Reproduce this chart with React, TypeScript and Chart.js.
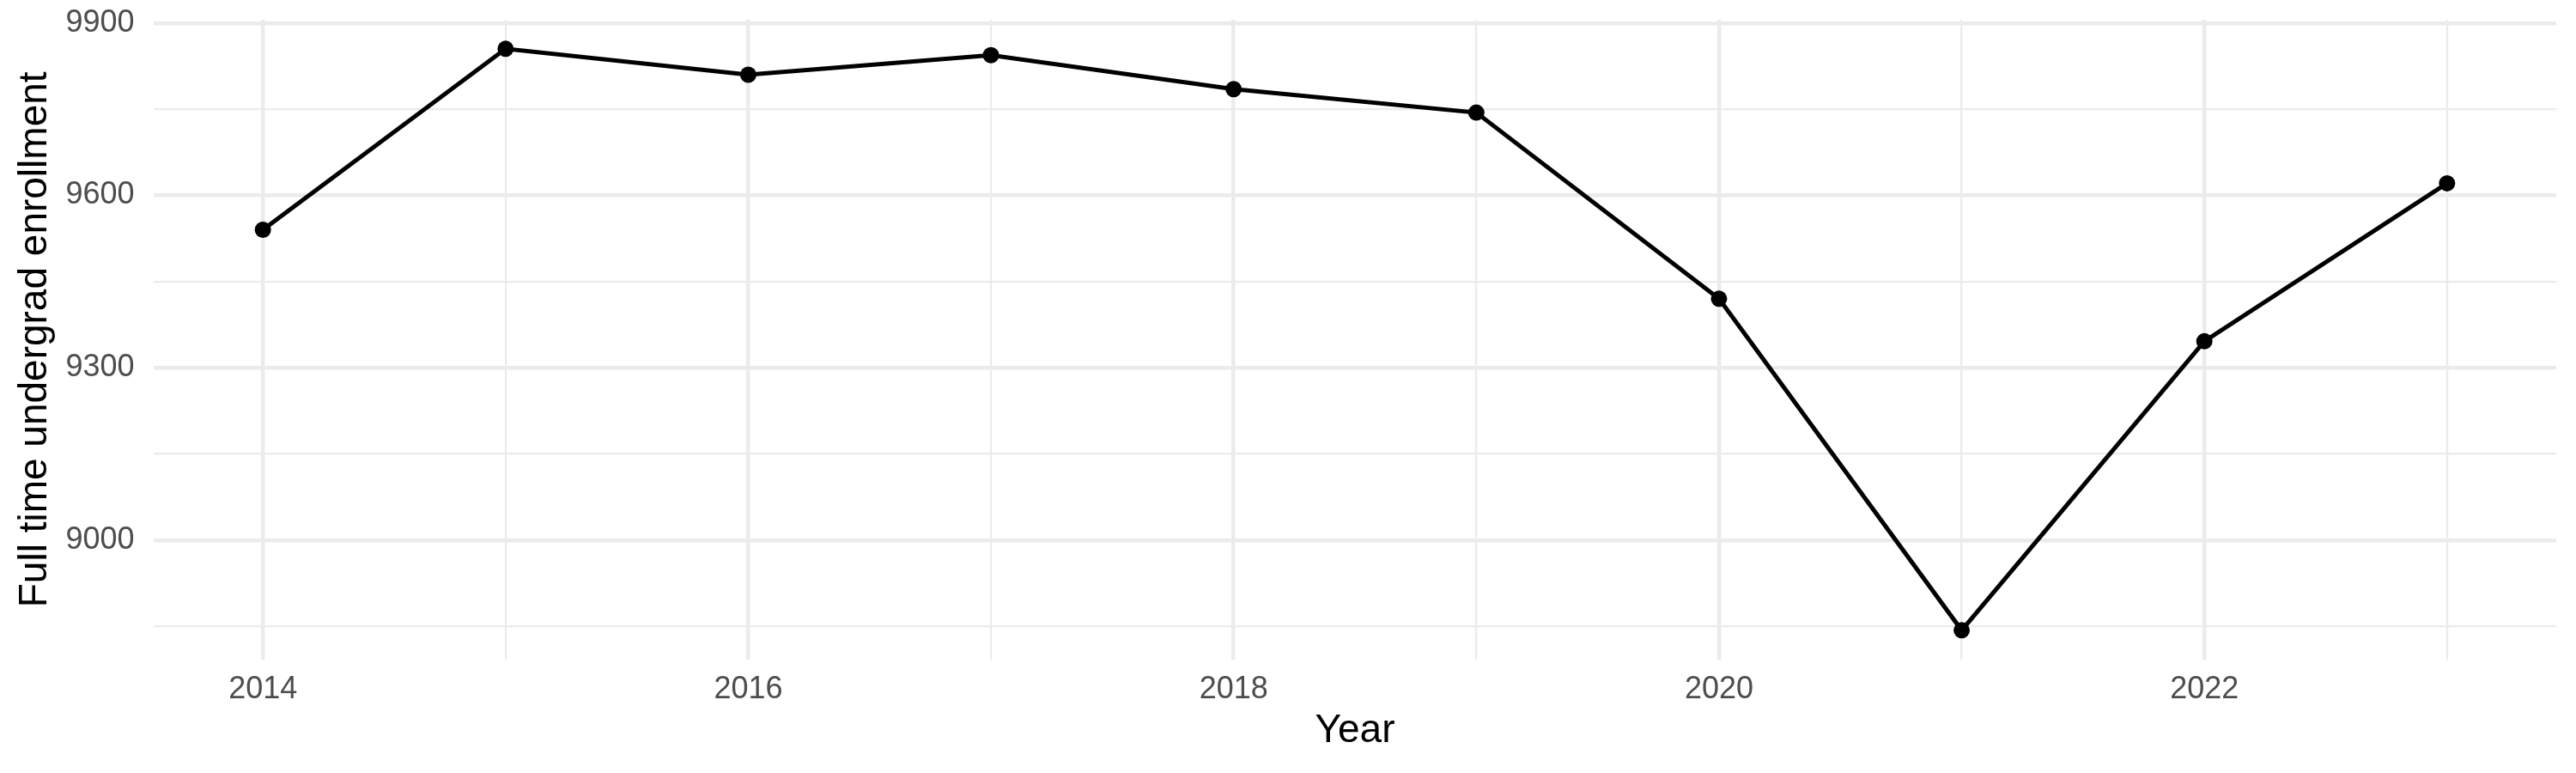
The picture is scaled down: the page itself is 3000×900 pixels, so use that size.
import React, { useEffect, useRef } from "react";
import { Chart, registerables } from "chart.js";

Chart.register(...registerables);

const years: number[] = [2014, 2015, 2016, 2017, 2018, 2019, 2020, 2021, 2022, 2023];
const enrollment: number[] = [9540, 9855, 9810, 9844, 9785, 9744, 9420, 8843, 9346, 9621];
const yTickValues: number[] = [8850, 9000, 9150, 9300, 9450, 9600, 9750, 9900];
const yMajorTicks: number[] = [9000, 9300, 9600, 9900];
const xMajorTicks: number[] = [2014, 2016, 2018, 2020, 2022];
const xTitle = "Year";
const yTitle = "Full time undergrad enrollment";

const FONT = "'Liberation Sans', Arial, Helvetica, sans-serif";
const GRID = "#EBEBEB";
const TICK_COLOR = "#4D4D4D";

export default function App() {
  const ref = useRef<HTMLCanvasElement | null>(null);

  useEffect(() => {
    if (!ref.current) return;
    const xMin = Math.min(...years);
    const xMax = Math.max(...years);
    const xPad = (xMax - xMin) * 0.05;
    const yMin = Math.min(...enrollment);
    const yMax = Math.max(...enrollment);
    const yPad = (yMax - yMin) * 0.05;

    const chart = new Chart(ref.current, {
      type: "line",
      data: {
        datasets: [
          {
            data: years.map((x, i) => ({ x, y: enrollment[i] })),
            borderColor: "#000000",
            backgroundColor: "#000000",
            borderWidth: 5,
            pointRadius: 9.5,
            pointBorderWidth: 0,
            pointBackgroundColor: "#000000",
            tension: 0,
            fill: false,
          },
        ],
      },
      options: {
        animation: false,
        responsive: false,
        devicePixelRatio: 1,
        layout: { padding: { top: 23, right: 23, left: 0, bottom: 0 } },
        plugins: {
          legend: { display: false },
          tooltip: { enabled: false },
        },
        scales: {
          x: {
            type: "linear",
            min: xMin - xPad,
            max: xMax + xPad,
            afterBuildTicks: (scale: any) => {
              scale.ticks = years.map((v) => ({ value: v }));
            },
            afterFit: (scale: any) => {
              scale.height = 132.3;
              scale.paddingLeft = 0;
              scale.paddingRight = 0;
            },
            ticks: {
              autoSkip: false,
              maxRotation: 0,
              minRotation: 0,
              padding: 17,
              color: TICK_COLOR,
              font: { family: FONT, size: 36, lineHeight: 1 },
              callback: (v: any) => (xMajorTicks.includes(Number(v)) ? String(v) : ""),
            },
            grid: {
              drawTicks: false,
              color: GRID,
              lineWidth: (ctx: any) =>
                ctx.tick && xMajorTicks.includes(ctx.tick.value) ? 4.4 : 2.2,
            },
            border: { display: false },
            title: {
              display: true,
              text: xTitle,
              color: "#000000",
              font: { family: FONT, size: 46, lineHeight: 1 },
              padding: { top: 0, bottom: 25.6 },
            },
          },
          y: {
            type: "linear",
            min: yMin - yPad,
            max: yMax + yPad,
            afterBuildTicks: (scale: any) => {
              scale.ticks = yTickValues.map((v) => ({ value: v }));
            },
            afterFit: (scale: any) => {
              scale.width = 179;
              scale.paddingTop = 0;
              scale.paddingBottom = 0;
            },
            ticks: {
              autoSkip: false,
              padding: 22.5,
              color: TICK_COLOR,
              font: { family: FONT, size: 36, lineHeight: 1 },
              callback: (v: any) => (yMajorTicks.includes(Number(v)) ? String(v) : ""),
            },
            grid: {
              drawTicks: false,
              color: GRID,
              lineWidth: (ctx: any) =>
                ctx.tick && yMajorTicks.includes(ctx.tick.value) ? 4.4 : 2.2,
            },
            border: { display: false },
            title: {
              display: true,
              text: yTitle,
              color: "#000000",
              font: { family: FONT, size: 46, lineHeight: 1 },
              padding: { top: 18, bottom: 0 },
            },
          },
        },
      },
    });
    return () => chart.destroy();
  }, []);

  return (
    <div style={{ position: "absolute", left: 0, top: 0, width: 3000, height: 900, background: "#ffffff" }}>
      <canvas ref={ref} width={3000} height={900} style={{ width: 3000, height: 900, display: "block" }} />
    </div>
  );
}
